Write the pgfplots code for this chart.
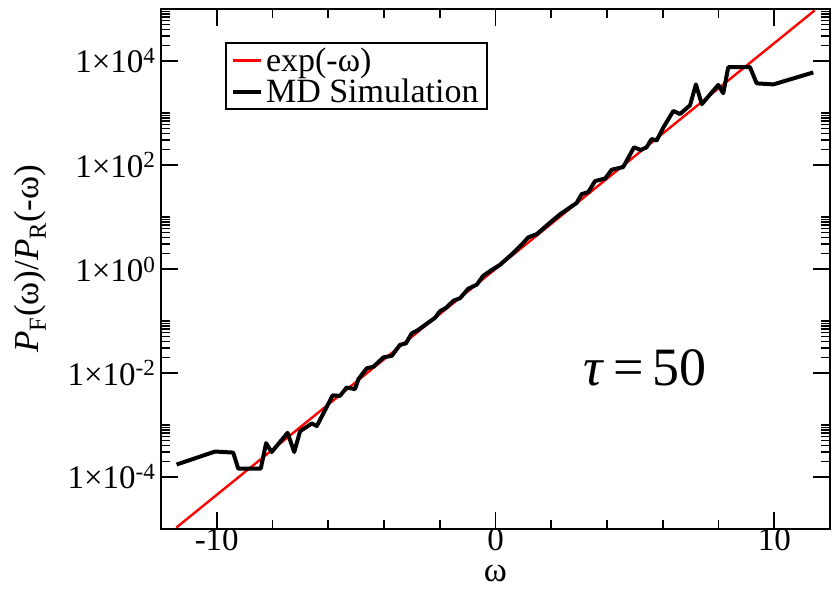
\documentclass[border=0pt]{standalone}
\usepackage{pgfplots}
\pgfplotsset{compat=1.18}
\usepackage{fontspec}
\setmainfont{Liberation Serif}
\begin{document}
\begin{tikzpicture}
\useasboundingbox (-161pt,-60pt) rectangle (671pt,529pt);
\begin{axis}[
  at={(0pt,0pt)}, anchor=south west,
  scale only axis, width=669pt, height=520pt,
  xmin=-12, xmax=12, ymin=1e-5, ymax=1e5, ymode=log,
  axis line style={line width=2.6pt},
  xtick={-10,0,10}, xticklabels={-10,0,10},
  minor xtick={-8,-6,-4,-2,2,4,6,8},
  ytick={1e-4,1e-2,1,1e2,1e4},
  yticklabels={1×10\textsuperscript{-4},1×10\textsuperscript{-2},1×10\textsuperscript{0},1×10\textsuperscript{2},1×10\textsuperscript{4}},
  minor ytick={2e-4,3e-4,4e-4,5e-4,6e-4,7e-4,8e-4,9e-4,1e-3,
               2e-2,3e-2,4e-2,5e-2,6e-2,7e-2,8e-2,9e-2,1e-1,
               2,3,4,5,6,7,8,9,10,
               2e2,3e2,4e2,5e2,6e2,7e2,8e2,9e2,1e3,
               2e4,3e4,4e4,5e4,6e4,7e4,8e4,9e4},
  tick align=inside, xtick pos=both, ytick pos=both,
  major tick length=17pt, minor tick length=9pt,
  every tick/.style={line width=1.6pt, black},
  tick label style={font=\fontsize{33}{36}\selectfont},
  xticklabel style={yshift=2pt, inner sep=1pt},
  yticklabel style={xshift=-2pt},
  xlabel={ω}, ylabel={\textit{P}\textsubscript{F}(ω)/\textit{P}\textsubscript{R}(-ω)},
  label style={font=\fontsize{35}{38}\selectfont},
  xlabel style={at={(axis description cs:0.5,-0.086)}, anchor=center, inner sep=1pt},
  ylabel style={at={(axis description cs:-0.196,0.52)}, anchor=center},
  legend cell align=left,
  legend image code/.code={\draw[#1] (0pt,0pt) -- (28pt,0pt);},
  legend style={font=\fontsize{34}{36}\selectfont, at={(axis description cs:0.0957,0.9365)}, anchor=north west,
    draw=black, line width=2pt, fill=white, inner xsep=5pt, inner ysep=2pt, row sep=0pt,
    nodes={inner sep=3pt}},
]
\addplot[red, line width=2.4pt] coordinates {(-11.45,1.065e-5) (11.45,93911)};
\addlegendentry{exp(-ω)}
\addplot[black, line width=4pt, line join=round] coordinates {
(-11.44,1.738e-4) (-10.06,3.09e-4) (-9.41,2.95e-4) (-9.23,1.45e-4) (-8.42,1.45e-4)
(-8.23,4.47e-4) (-8.03,3.02e-4) (-7.46,7.08e-4) (-7.22,3.02e-4) (-7.01,7.59e-4)
(-6.59,1.07e-3) (-6.41,9.55e-4) (-5.84,3.72e-3) (-5.58,3.63e-3) (-5.34,5.25e-3)
(-5.04,4.90e-3) (-4.92,7.59e-3) (-4.62,1.23e-2) (-4.38,1.32e-2) (-4.02,2.00e-2)
(-3.72,2.14e-2) (-3.43,3.47e-2) (-3.21,3.72e-2) (-3.01,5.75e-2) (-2.77,6.76e-2)
(-2.41,9.33e-2) (-2.17,0.115) (-1.99,0.155) (-1.78,0.178) (-1.51,0.245)
(-1.27,0.275) (-0.98,0.417) (-0.67,0.501) (-0.44,0.741) (-0.14,0.955)
(0.16,1.202) (0.64,2.042) (0.94,2.951) (1.18,4.074) (1.48,4.677)
(1.78,6.457) (2.02,8.318) (2.31,11.22) (2.61,14.45) (2.91,18.62)
(3.09,27.54) (3.33,30.20) (3.57,48.98) (3.93,54.95) (4.17,81.28)
(4.58,91.20) (4.97,218.8) (5.21,195.0) (5.42,218.8) (5.60,316.2)
(5.78,295.1) (6.02,524.8) (6.38,1096) (6.62,955) (6.98,1413)
(7.19,3548) (7.40,1479) (7.99,3467) (8.17,2399) (8.35,7586)
(9.13,7586) (9.37,3715) (9.97,3548) (11.40,6026)};
\addlegendentry{MD Simulation}
\node[font=\fontsize{54}{58}\selectfont] at (rel axis cs:0.7235,0.3096) {\textit{τ}\,=\,50};
\end{axis}
\end{tikzpicture}
\end{document}
